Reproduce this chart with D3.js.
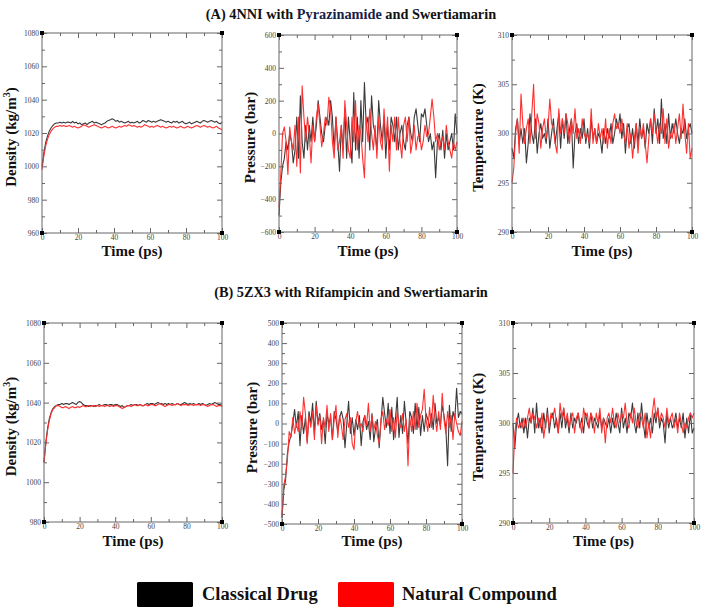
<!DOCTYPE html>
<html><head><meta charset="utf-8">
<script src="https://cdn.jsdelivr.net/npm/d3@7"></script>
<style>
html,body{margin:0;padding:0;background:#fff;}
svg{display:block;}
text{font-family:"Liberation Serif","Times New Roman",serif;}
</style></head>
<body>
<svg id="chart" width="702" height="609"></svg>
<script>
// ---------- DATA (time 0..100 ps, 1 ps step) ----------
const time = d3.range(0, 101);
const xTicks = [0, 20, 40, 60, 80, 100];

const densityA_drug = [1000,1008,1014,1018,1021,1023,1024.5,1025.5,1026,1026,1026.5,1026,1026.5,1026,1026.5,1026.5,1026,1027,1026,1026.5,1025.5,1026,1025,1025.5,1026,1025,1026,1026.5,1027,1026,1026.5,1026,1025.5,1025,1025.5,1026,1027,1027.5,1028,1028.5,1028,1027,1027.5,1026.5,1027,1026.5,1026,1026.5,1027,1026,1026.5,1026,1026.5,1027,1026,1026.5,1027.5,1027,1026.5,1027.5,1027,1026.5,1027,1026.5,1027,1027.5,1028,1027.5,1027,1026.5,1027,1026.5,1026,1027,1026.5,1027,1026,1026.5,1027,1026,1025.5,1026,1026.5,1025.5,1026,1026.5,1027,1026.5,1026,1027,1027.5,1027,1026.5,1027,1027.5,1027,1026.5,1027,1026,1025.5,1026.5];
const densityA_nat = [998,1006,1012,1016,1019,1021,1022.5,1023.5,1024,1024,1024.5,1024,1024.5,1024,1024,1024.5,1024,1023.5,1024,1023.5,1023,1023.5,1024,1025,1024.5,1024,1023.5,1024,1024.5,1025,1024.5,1024,1023.5,1023,1023.5,1024,1023.5,1023,1023.5,1024,1023.5,1023,1023.5,1024,1023.5,1024,1024.5,1024,1025,1024.5,1024,1024.5,1024,1023.5,1024,1023.5,1024,1025,1024.5,1024,1023.5,1024,1023.5,1024,1024.5,1024,1023.5,1024,1023.5,1023,1023.5,1024,1023.5,1024,1023.5,1023,1023.5,1024,1023.5,1023,1023.5,1024,1023.5,1023,1023.5,1024,1024.5,1024,1023.5,1024,1024.5,1024,1023.5,1024,1023.5,1023,1023.5,1024,1023,1022.5,1022];

const pressureA_drug = [-500,-300,-200,-150,-50,-100,0,-50,-180,-100,100,-150,230,-50,-150,50,-100,50,-50,100,-50,50,200,100,0,-50,50,100,50,200,100,-100,100,-50,-230,50,-100,150,-150,100,-50,-180,250,-100,100,-150,200,-50,310,50,100,-100,230,50,0,-100,200,50,-50,100,-150,50,-100,100,50,-50,100,-100,0,50,-50,-100,50,100,0,-50,100,150,50,-50,120,100,150,50,-50,0,-100,-50,-270,-50,0,-100,20,-150,0,-100,-50,0,-100,120,0];
const pressureA_nat = [-450,-250,0,40,-50,-250,40,-50,-100,50,-200,100,-240,290,100,-50,100,0,-180,50,-50,100,180,50,-80,0,100,50,220,150,-50,-150,100,-100,-50,50,-150,200,50,-100,-150,100,-50,200,-100,50,0,-150,-270,100,-50,150,0,-100,50,-150,100,-50,-100,150,-50,100,-230,50,-50,100,-100,100,-50,-150,50,100,-50,100,-120,-50,50,-100,-20,0,-100,-50,50,-20,0,100,210,100,-50,0,-100,-50,-20,-100,50,-50,-100,-150,-50,-100,-50];

const tempA_drug = [298.5,297.5,300.5,301.5,299,300.5,299,300.5,297,299,302,300,299,301.5,298,300,301,299.5,300,299,301.5,298.5,300,301.5,299,300.5,302,298.5,301.5,299.5,302,299,300.5,301.5,296.5,300,301,299,300.5,299.5,301.5,299,300.5,298.5,301.5,299.5,300.5,299,300,299.5,298,300.5,299,300.5,299.5,301,299,300,301.5,300.5,302,299.5,301,298,300.5,301,299,300.5,298.5,301,299,301.5,299.5,300.5,298.5,301,300,301.5,299,302.5,300,301.5,299,303.5,299.5,301,299,302,299.5,301,300,301.5,300,299,300.5,300,301.5,299.5,300.5,301,300];
const tempA_nat = [295,296.5,300,301.5,298,304,301,299,300.5,301.5,299,302,305,299.5,302,301,298.5,300.5,301.5,299.5,300.5,303.5,301,300.5,299,298,302.5,300,301.5,300,302,301,299,301.5,300,302.5,299.5,300.5,299,301.5,300,299.5,300,299,302.5,299,300.5,299,301,299.5,300.5,299,301.5,298.5,300.5,299,301,302,300.5,301,300,301.5,300,299,301,298.5,300,297.5,299.5,301,298,300.5,299.5,301,299,297,299.5,301.5,300,302,300.5,299,301,300,302.5,299,301.5,298.5,300,299.5,301,299,300.5,302,299.5,303,300,298,301,297.5,298.5];

const densityB_drug = [1010,1020,1027,1032,1035,1037,1038,1038.5,1039,1039,1039.5,1039,1039.5,1039.5,1039,1039.5,1040,1039.5,1039,1040,1040.5,1040,1039,1038.5,1038.5,1038,1038.5,1038.5,1038,1038.5,1038.5,1039,1038.5,1038.5,1039,1039,1038.5,1039,1039,1038.5,1039,1039,1038.5,1038,1038.5,1037.5,1038,1038.5,1038.5,1039,1038.5,1039,1039,1038.5,1039,1038.5,1038.5,1039,1039.5,1039,1039.5,1039.5,1039,1039.5,1040,1039.5,1039.5,1039,1039.5,1039,1039.5,1039,1039.5,1039,1039,1039.5,1039,1039,1039.5,1040,1039.5,1039,1039.5,1039,1039.5,1039,1039,1039.5,1039,1039.5,1039,1038.5,1039,1039.5,1039,1039.5,1040,1039.5,1039,1039,1038.5];
const densityB_nat = [1010,1019,1026,1031,1034.5,1036.5,1037.5,1038.5,1038.5,1038,1037.5,1037.5,1038,1037.5,1037,1037.5,1038,1037.5,1037.5,1038,1037.5,1038,1038.5,1038,1038,1038.5,1038,1038.5,1038.5,1038,1038.5,1038,1038.5,1038.5,1038,1038.5,1038.5,1038,1038.5,1038,1038.5,1038.5,1038,1037.5,1037,1037.5,1038,1038.5,1038.5,1038,1038.5,1039,1038.5,1038.5,1039,1038.5,1038.5,1039,1038.5,1038.5,1039,1039,1038.5,1038.5,1039,1039.5,1039,1038.5,1038,1038.5,1039,1039,1038.5,1039,1039,1039.5,1039,1038.5,1039,1039,1039,1038.5,1039,1039,1038.5,1039,1039,1039,1038.5,1039,1039,1038.5,1038,1038.5,1039,1039,1038.5,1038,1038.5,1038.5,1038];

const pressureB_drug = [-470,-330,-280,-150,-90,-60,0,70,-20,60,-110,40,-50,30,-90,60,0,100,-50,110,0,50,-30,20,-100,50,0,30,-80,60,20,-40,30,60,20,-120,0,110,-50,30,-60,20,-30,40,-110,10,40,-30,10,-80,50,-90,-20,20,-120,10,130,50,-20,100,-50,80,-80,20,130,-70,40,-50,110,0,-100,60,30,-50,100,-30,80,-60,40,-40,50,20,-20,50,-30,100,0,30,-10,90,40,-20,-210,90,-40,60,20,175,30,60,50];
const pressureB_nat = [-460,-310,-260,-180,-40,-70,30,-50,0,-40,60,-30,130,50,-100,40,-20,60,-80,90,-10,40,-100,30,-20,90,-40,50,-80,20,90,-70,40,-10,-80,20,50,-20,30,-100,-130,10,60,-20,0,-40,40,-10,100,-40,40,-30,10,-60,-100,20,60,-30,20,-10,70,-40,30,-70,60,0,-20,50,-40,20,-210,30,-40,60,-30,100,-20,40,70,170,20,-40,80,-20,140,30,-40,60,-30,150,20,-50,60,-20,40,-80,50,0,-40,-60,10];

const tempB_drug = [300,297.5,300,301,299.5,300.5,299,300.5,298.5,300.5,300,301.5,299,302,299.5,300.5,299,301,299.5,301.5,299,300.5,301,299.5,300.5,299,301,299.5,301.5,299.5,300.5,299,301,299.5,300.5,300,301,299.5,300.5,299,301,300,299.5,301,299.5,300.5,300,299.5,301,299.5,300.5,300,299.5,300.5,299,300.5,299.5,301,300,299,301.5,299.5,300.5,299,301,300.5,302,300,299,301,299.5,302,300,298.5,301,299.5,300.5,299,301,300,301.5,299.5,300.5,300,298,301,299.5,300.5,299.5,300,301,299.5,300.5,299.5,301,298.5,300.5,299,301,299,299.5];
const tempB_nat = [295,299,300.5,299.5,300,299.5,300.5,299.5,300.5,301.5,300,301,300.5,299.5,300.5,299.5,301,298.5,300,301,299.5,301,300.5,301.5,300,299,302,300.5,301.5,300,301,299.5,300.5,301,299,300.5,301,300,299,301.5,300.5,301,299.5,301,300.5,299,301,300,301.5,299,300.5,298,300.5,301,300,301.5,300,299.5,301,300,301,300.5,302,300,299.5,301,300,301.5,300,299.5,301,300.5,299.5,301,298.5,300,298.5,301,302.5,300.5,301.5,300,301,300.5,299.5,301.5,300,300.5,301,299.5,300.5,299,301,300,299,300,299.5,300.5,301,300.5,301];

const seriesNames = ["Classical Drug", "Natural Compound"];
const titleA = ["(A) 4NNI with ", "Pyrazinamide", " and Swertiamarin"];
const titleB = "(B) 5ZX3 with Rifampicin and Swertiamarin";

// ---------- LAYOUT / STYLE ----------
const colors = ["#3a3a3a", "#ff3030"];
const panels = [
  {x0:42, x1:222, y0:33, y1:233, dom:[960,1080], major:20, minor:10, ylab:"Density", unit:true, data:[densityA_drug, densityA_nat], ylx:11, xly:256},
  {x0:279, x1:457, y0:35, y1:232, dom:[-600,600], major:200, minor:100, ylab:"Pressure (bar)", data:[pressureA_drug, pressureA_nat], ylx:250, xly:256},
  {x0:512, x1:692, y0:35, y1:232, dom:[290,310], major:5, minor:2.5, ylab:"Temperature (K)", data:[tempA_drug, tempA_nat], ylx:478, xly:256},
  {x0:44, x1:222, y0:323, y1:522, dom:[980,1080], major:20, minor:10, ylab:"Density", unit:true, data:[densityB_drug, densityB_nat], ylx:11, xly:546},
  {x0:282, x1:462, y0:323, y1:524, dom:[-500,500], major:100, minor:50, ylab:"Pressure (bar)", data:[pressureB_drug, pressureB_nat], ylx:252, xly:546},
  {x0:513, x1:694, y0:323, y1:523, dom:[290,310], major:5, minor:2.5, ylab:"Temperature (K)", data:[tempB_drug, tempB_nat], ylx:478, xly:546}
];

const svg = d3.select("#chart");

// titles
const tA = svg.append("text").attr("x", 351).attr("y", 19).attr("text-anchor","middle")
  .attr("font-size", 14.3).attr("font-weight","bold").attr("fill","#111");
tA.append("tspan").text(titleA[0]);
tA.append("tspan").attr("fill","#17204a").text(titleA[1]);
tA.append("tspan").text(titleA[2]);
svg.append("text").attr("x", 351).attr("y", 297).attr("text-anchor","middle")
  .attr("font-size", 14.3).attr("font-weight","bold").attr("fill","#111").text(titleB);

panels.forEach(p => {
  const x = d3.scaleLinear().domain([0,100]).range([p.x0, p.x1]);
  const y = d3.scaleLinear().domain(p.dom).range([p.y1, p.y0]);
  const g = svg.append("g");
  const frameCol = "#666";

  const line = d3.line().x((d,i)=>x(time[i])).y(d=>y(d));
  [0,1].forEach(k => {
    g.append("path").datum(p.data[k]).attr("d", line)
      .attr("fill","none").attr("stroke", colors[k]).attr("stroke-width", 1.1)
      .attr("stroke-linejoin","round");
  });

  // frame
  g.append("rect").attr("x", p.x0).attr("y", p.y0).attr("width", p.x1-p.x0).attr("height", p.y1-p.y0)
    .attr("fill","none").attr("stroke", frameCol).attr("stroke-width", 1);

  // x ticks (inward, bottom and top)
  const xMinor = d3.range(10, 100, 20);
  const axB = d3.axisBottom(x).tickValues(xTicks).tickSize(-5).tickPadding(2).tickFormat(d3.format("d"));
  const gxb = g.append("g").attr("transform", `translate(0,${p.y1})`).call(axB);
  const axT = d3.axisTop(x).tickValues(xTicks).tickSize(-5).tickFormat("");
  const gxt = g.append("g").attr("transform", `translate(0,${p.y0})`).call(axT);
  const axBm = d3.axisBottom(x).tickValues(xMinor).tickSize(-3).tickFormat("");
  const gxbm = g.append("g").attr("transform", `translate(0,${p.y1})`).call(axBm);
  const axTm = d3.axisTop(x).tickValues(xMinor).tickSize(-3).tickFormat("");
  const gxtm = g.append("g").attr("transform", `translate(0,${p.y0})`).call(axTm);

  // y ticks
  const yMaj = d3.range(p.dom[0], p.dom[1] + 1e-6, p.major);
  const yMin = d3.range(p.dom[0] + p.minor, p.dom[1], p.major);
  const axL = d3.axisLeft(y).tickValues(yMaj).tickSize(-5).tickPadding(3).tickFormat(d3.format("d"));
  const gyl = g.append("g").attr("transform", `translate(${p.x0},0)`).call(axL);
  const axR = d3.axisRight(y).tickValues(yMaj).tickSize(-5).tickFormat("");
  const gyr = g.append("g").attr("transform", `translate(${p.x1},0)`).call(axR);
  const axLm = d3.axisLeft(y).tickValues(yMin).tickSize(-3).tickFormat("");
  const gylm = g.append("g").attr("transform", `translate(${p.x0},0)`).call(axLm);
  const axRm = d3.axisRight(y).tickValues(yMin).tickSize(-3).tickFormat("");
  const gyrm = g.append("g").attr("transform", `translate(${p.x1},0)`).call(axRm);

  [gxb,gxt,gxbm,gxtm,gyl,gyr,gylm,gyrm].forEach(a => {
    a.select(".domain").remove();
    a.selectAll(".tick line").attr("stroke", frameCol);
    a.selectAll(".tick text").attr("font-family","'Liberation Serif',serif").attr("font-size", 7.5).attr("fill","#444");
  });

  // corner squares
  [[p.x0,p.y0],[p.x1,p.y0],[p.x0,p.y1],[p.x1,p.y1]].forEach(c => {
    g.append("rect").attr("x", c[0]-2).attr("y", c[1]-2).attr("width", 4).attr("height", 4).attr("fill","#000");
  });

  // x label
  g.append("text").attr("x", (p.x0+p.x1)/2).attr("y", p.xly).attr("text-anchor","middle")
    .attr("font-size", 15).attr("font-weight","bold").attr("fill","#111").text("Time (ps)");

  // y label
  const yc = (p.y0+p.y1)/2 + 4;
  const yl = g.append("text").attr("transform", `translate(${p.ylx+5},${yc}) rotate(-90)`)
    .attr("text-anchor","middle").attr("font-size", 15).attr("font-weight","bold").attr("fill","#111");
  if (p.unit) {
    yl.append("tspan").text("Density (kg/m");
    yl.append("tspan").attr("font-size", 10).attr("dy", -6).text("3");
    yl.append("tspan").attr("dy", 6).text(")");
  } else {
    yl.text(p.ylab);
  }
});

// legend
const legend = [
  {rx:137, tx:202, name:seriesNames[0], col:"#000"},
  {rx:338, tx:402, name:seriesNames[1], col:"#ff0000"}
];
legend.forEach(l => {
  svg.append("rect").attr("x", l.rx).attr("y", 582).attr("width", 56).attr("height", 25).attr("rx", 1.5).attr("fill", l.col);
  svg.append("text").attr("x", l.tx).attr("y", 600).attr("font-size", 18.5).attr("font-weight","bold")
    .attr("fill","#111").text(l.name);
});
</script>
</body></html>
